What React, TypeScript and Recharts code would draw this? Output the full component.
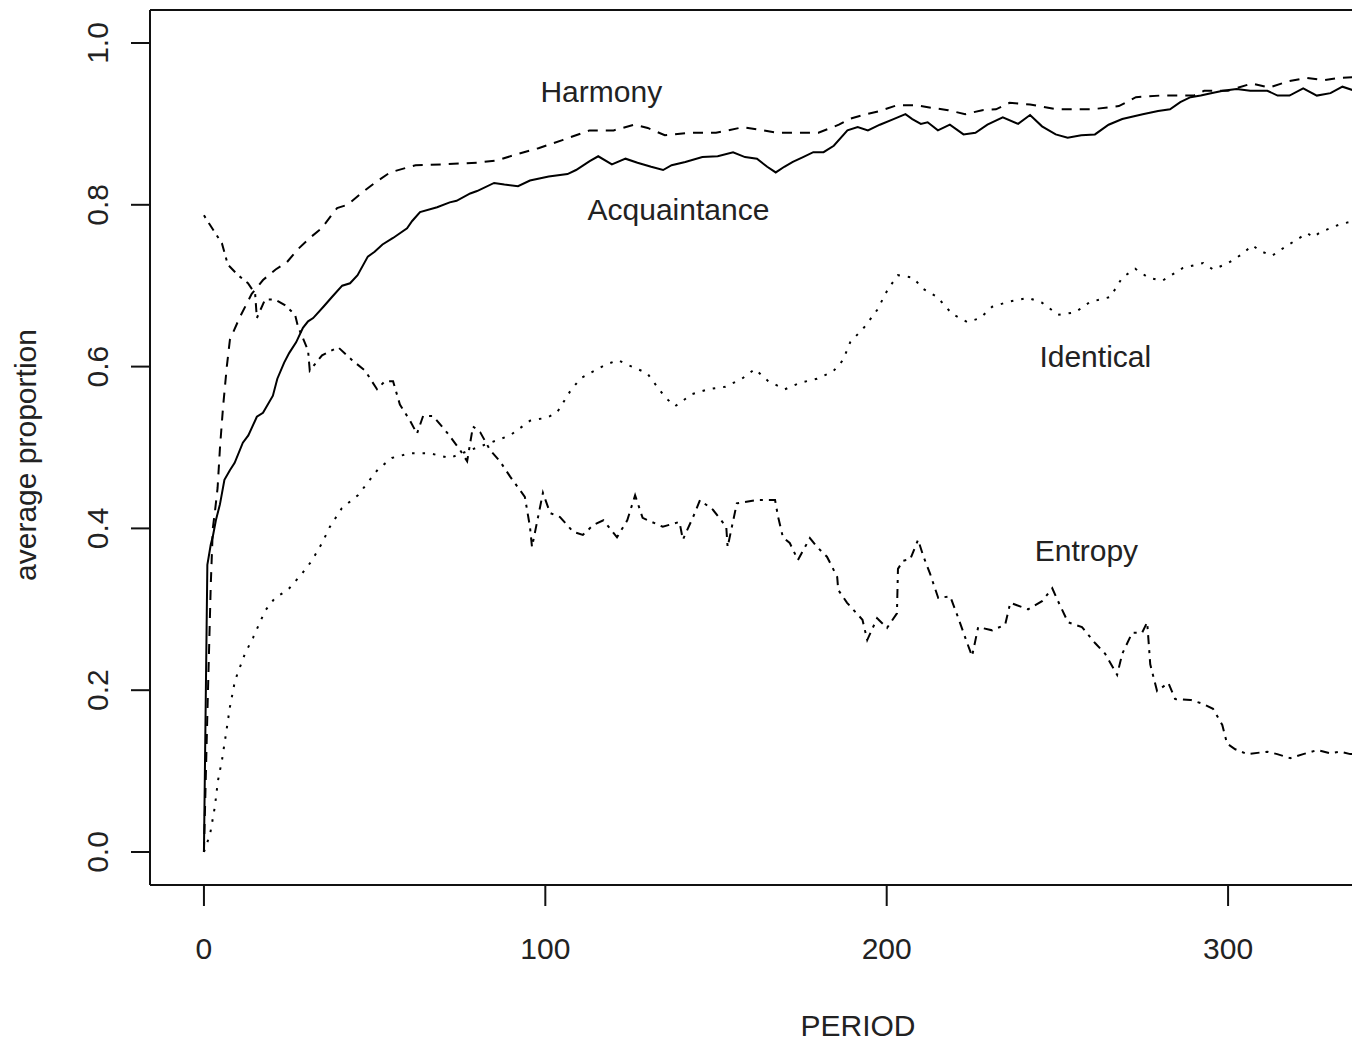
import { LineChart, Line, XAxis, YAxis, ReferenceLine, ReferenceDot } from 'recharts';

const FONT = '"Liberation Sans", Arial, Helvetica, sans-serif';
const INK = '#111';
const TEXT = '#222';

// axis ranges (R pads the data range by 4%)
const X_MIN = -15.8;
const X_MAX = 336.3;
const Y_MIN = -0.0408;
const Y_MAX = 1.0408;

const periodTicks = [0, 100, 200, 300];
const proportionTicks = [0, 0.2, 0.4, 0.6, 0.8, 1.0];

// [period, average proportion]
const acquaintance: [number, number][] = [
  [0, 0], [1, 0.355], [2, 0.38], [2.6, 0.39], [3.5, 0.41], [4.7, 0.43], [6, 0.46], [7.6, 0.472], [9, 0.481],
  [11.4, 0.506], [13, 0.515], [15.5, 0.538], [17.3, 0.543], [20.2, 0.564], [21.5, 0.585], [23.5, 0.605],
  [25, 0.617], [27, 0.63], [29, 0.648], [30.5, 0.656], [32, 0.66], [35, 0.674], [37.5, 0.686], [40.5, 0.7],
  [42.8, 0.703], [45, 0.713], [48, 0.736], [50, 0.742], [52.3, 0.751], [55.4, 0.759], [59.5, 0.771],
  [61, 0.78], [63.3, 0.791], [68.3, 0.797], [72, 0.803], [74, 0.805], [78, 0.814], [80, 0.817],
  [85, 0.827], [88, 0.825], [92, 0.823], [95.5, 0.83], [101, 0.835], [106.5, 0.838], [109, 0.843],
  [113, 0.854], [115.5, 0.86], [119.5, 0.85], [123.5, 0.857], [127, 0.852], [131, 0.847], [134.5, 0.843],
  [137, 0.849], [141, 0.853], [146, 0.859], [150.5, 0.86], [155, 0.865], [158.5, 0.859], [162, 0.857],
  [165, 0.847], [167.5, 0.84], [170, 0.847], [172.5, 0.853], [175.5, 0.859], [178.5, 0.865], [181.5, 0.865],
  [184.5, 0.873], [188.5, 0.892], [191.5, 0.896], [194.5, 0.892], [198, 0.899], [202, 0.906], [205.5, 0.912],
  [207.5, 0.906], [210, 0.9], [212, 0.902], [215, 0.892], [218.5, 0.899], [222.5, 0.887], [226, 0.889],
  [229.5, 0.899], [234, 0.908], [238.5, 0.9], [242, 0.911], [245.5, 0.897], [249.5, 0.887], [253, 0.883],
  [257, 0.886], [261, 0.887], [265, 0.899], [269, 0.906], [275, 0.912], [279.5, 0.916], [283, 0.918],
  [286, 0.927], [289, 0.933], [292, 0.935], [295, 0.938], [298.5, 0.941], [302.5, 0.943], [306.5, 0.941],
  [311.5, 0.941], [314.5, 0.935], [318, 0.935], [322, 0.944], [326, 0.935], [330, 0.938], [333.5, 0.946],
  [337, 0.941], [342, 0.943],
];

const harmony: [number, number][] = [
  [0, 0], [1, 0.17], [2, 0.33], [2.6, 0.4], [3.2, 0.42], [4, 0.45], [4.7, 0.5], [5.6, 0.55], [6.7, 0.6],
  [7.6, 0.633], [10.5, 0.661], [14, 0.69], [17.3, 0.707], [21, 0.72], [24.3, 0.729], [27.5, 0.745],
  [31, 0.759], [34.5, 0.771], [37.5, 0.788], [39, 0.796], [42, 0.8], [46.6, 0.816], [50, 0.827],
  [54.5, 0.84], [62, 0.849], [70, 0.85], [80, 0.852], [86, 0.855], [92, 0.863], [98, 0.87], [105, 0.88],
  [113, 0.892], [120, 0.892], [126, 0.899], [130, 0.895], [135, 0.886], [142, 0.889], [150, 0.889],
  [158, 0.896], [168, 0.889], [180, 0.889], [186, 0.899], [189, 0.906], [194, 0.912], [198, 0.916],
  [203, 0.923], [209, 0.923], [213, 0.92], [218, 0.917], [223, 0.912], [228, 0.917], [232, 0.918],
  [236, 0.926], [242, 0.924], [250, 0.918], [260, 0.918], [268, 0.922], [273, 0.933], [280, 0.935],
  [290, 0.935], [293, 0.941], [300, 0.941], [307, 0.95], [312, 0.945], [318, 0.953], [323, 0.957],
  [328, 0.954], [333, 0.957], [338, 0.958], [342, 0.958],
];

const identical: [number, number][] = [
  [0, 0], [1.8, 0.022], [3.2, 0.056], [4.1, 0.088], [5.3, 0.114], [6.7, 0.153], [7.6, 0.179], [9.1, 0.212],
  [12, 0.245], [14.4, 0.265], [17.9, 0.298], [20.8, 0.314], [24.6, 0.324], [28.7, 0.344], [31.6, 0.36],
  [34.6, 0.382], [36.9, 0.402], [40.4, 0.425], [45.1, 0.441], [51, 0.473], [55, 0.487], [60.4, 0.493],
  [66, 0.493], [72, 0.487], [80, 0.5], [89.7, 0.515], [95.5, 0.533], [100.5, 0.537], [103.4, 0.543],
  [107.2, 0.569], [110.2, 0.585], [113.1, 0.592], [117.5, 0.602], [121.3, 0.608], [124.2, 0.602],
  [129.8, 0.592], [135.1, 0.562], [138, 0.551], [143, 0.566], [147.7, 0.572], [152.7, 0.575],
  [157.6, 0.585], [161.4, 0.597], [165.3, 0.582], [170.2, 0.572], [174.6, 0.58], [179.6, 0.585],
  [184.3, 0.594], [187.2, 0.608], [189.3, 0.63], [193.7, 0.65], [197.2, 0.67], [200.4, 0.696],
  [203.3, 0.713], [207.7, 0.71], [210.7, 0.696], [214.8, 0.686], [219.2, 0.665], [223.6, 0.655],
  [227.4, 0.66], [230.9, 0.674], [235.6, 0.68], [241.4, 0.685], [245.5, 0.679], [250.2, 0.664],
  [255.2, 0.667], [259.6, 0.68], [265.5, 0.686], [269, 0.71], [272.8, 0.721], [276.6, 0.71],
  [280.7, 0.706], [284.5, 0.716], [286.8, 0.722], [292.7, 0.728], [295.6, 0.72], [300, 0.728],
  [304.1, 0.739], [307.1, 0.75], [309.4, 0.743], [312.9, 0.737], [316.7, 0.748], [323.2, 0.765],
  [324.9, 0.76], [327, 0.766], [332.8, 0.776], [337, 0.78], [342, 0.782],
];

const entropy: [number, number][] = [
  [0, 0.787], [1.8, 0.775], [5.3, 0.752], [7, 0.726], [10, 0.713], [12.9, 0.703], [15, 0.69], [15.5, 0.66],
  [17.9, 0.683], [20.8, 0.683], [23.7, 0.676], [26.7, 0.664], [27.5, 0.65], [30.5, 0.62], [31, 0.595],
  [34.6, 0.614], [39.3, 0.624], [43.4, 0.608], [47.2, 0.595], [50.7, 0.572], [53, 0.582], [55.4, 0.582],
  [57.4, 0.553], [60.4, 0.533], [62.4, 0.517], [64.2, 0.539], [67.1, 0.539], [71.5, 0.517], [75, 0.497],
  [77.1, 0.483], [78.8, 0.526], [80.9, 0.519], [83.8, 0.497], [86.7, 0.483], [89.7, 0.464], [94, 0.439],
  [95.5, 0.402], [96.1, 0.377], [99.3, 0.444], [101.4, 0.419], [104.3, 0.414], [108.1, 0.396],
  [111, 0.392], [114, 0.404], [117, 0.41], [121, 0.389], [124, 0.41], [126.3, 0.441], [128.5, 0.413],
  [134.4, 0.402], [139.3, 0.408], [140.3, 0.386], [143.8, 0.419], [145.3, 0.435], [149.1, 0.423],
  [153, 0.402], [153.4, 0.377], [156.1, 0.431], [162, 0.435], [167.3, 0.435], [168.2, 0.414],
  [169.6, 0.389], [171.6, 0.382], [174, 0.361], [177.5, 0.388], [179.6, 0.377], [182.5, 0.365],
  [185.5, 0.34], [185.8, 0.324], [188.4, 0.308], [192.9, 0.287], [194.3, 0.262], [197.2, 0.289],
  [200.1, 0.277], [203, 0.295], [203.3, 0.35], [204.8, 0.36], [206.9, 0.362], [209.2, 0.386],
  [210.7, 0.366], [212.7, 0.344], [215.1, 0.314], [218.6, 0.316], [220.9, 0.29], [223.6, 0.258],
  [225, 0.242], [226.8, 0.278], [230.9, 0.274], [234.7, 0.281], [236.2, 0.308], [241.4, 0.3],
  [245.5, 0.31], [248.5, 0.326], [250.2, 0.31], [253.1, 0.284], [257.2, 0.278], [261.1, 0.258],
  [264, 0.245], [267.5, 0.219], [269, 0.245], [271.9, 0.271], [274.8, 0.271], [276.3, 0.284],
  [277.2, 0.232], [279.2, 0.199], [282.5, 0.209], [284.5, 0.189], [289, 0.188], [292.7, 0.183],
  [295.6, 0.177], [298.3, 0.157], [299.7, 0.134], [302.1, 0.127], [305.6, 0.121], [311.5, 0.124],
  [314.4, 0.121], [318.2, 0.116], [322, 0.121], [326.1, 0.126], [329.9, 0.122], [332.8, 0.124],
  [335.8, 0.121], [340, 0.122],
];

// text() annotations placed in data coordinates
const annotations: { text: string; p: number; v: number }[] = [
  { text: 'Harmony', p: 116.4, v: 0.94 },
  { text: 'Acquaintance', p: 139.0, v: 0.794 },
  { text: 'Identical', p: 261.1, v: 0.613 },
  { text: 'Entropy', p: 258.5, v: 0.373 },
];

const toPoints = (rows: [number, number][]) => rows.map(([p, v]) => ({ p, v }));

const series = [
  { name: 'Acquaintance', rows: acquaintance, dash: undefined },
  { name: 'Harmony', rows: harmony, dash: '10 8' },
  { name: 'Identical', rows: identical, dash: '2.5 8' },
  { name: 'Entropy', rows: entropy, dash: '3 6 9 6' },
];

function XTick({ x, y, payload }: any) {
  return (
    <text x={x} y={y + 53} textAnchor="middle" fontSize={30} fontFamily={FONT} fill={TEXT}>
      {payload.value}
    </text>
  );
}

function YTick({ x, y, payload }: any) {
  const bx = x - 23;
  return (
    <text
      x={bx}
      y={y}
      transform={`rotate(-90, ${bx}, ${y})`}
      textAnchor="middle"
      fontSize={30}
      fontFamily={FONT}
      fill={TEXT}
    >
      {Number(payload.value).toFixed(1)}
    </text>
  );
}

export default function App() {
  return (
    <div style={{ position: 'absolute', left: 0, top: 0, width: 1352, height: 1045, overflow: 'hidden', background: '#fff' }}>
      <LineChart width={1352} height={1045} margin={{ top: 10, right: 0, bottom: 0, left: 0 }}>
        <XAxis
          type="number"
          dataKey="p"
          domain={[X_MIN, X_MAX]}
          ticks={periodTicks}
          allowDataOverflow
          height={160}
          tickSize={21}
          tickMargin={0}
          stroke={INK}
          strokeWidth={2}
          tick={<XTick />}
          label={{
            content: ({ viewBox }: any) => (
              <text x={viewBox.x + 708} y={viewBox.y + 151} textAnchor="middle" fontSize={30} fontFamily={FONT} fill={TEXT}>
                PERIOD
              </text>
            ),
          }}
        />
        <YAxis
          type="number"
          dataKey="v"
          domain={[Y_MIN, Y_MAX]}
          ticks={proportionTicks}
          allowDataOverflow
          width={150}
          tickSize={19}
          tickMargin={0}
          stroke={INK}
          strokeWidth={2}
          tick={<YTick />}
          label={{
            content: ({ viewBox }: any) => {
              const lx = viewBox.x + 36;
              const ly = 455;
              return (
                <text x={lx} y={ly} transform={`rotate(-90, ${lx}, ${ly})`} textAnchor="middle" fontSize={30} fontFamily={FONT} fill={TEXT}>
                  average proportion
                </text>
              );
            },
          }}
        />
        <ReferenceLine y={Y_MAX} stroke={INK} strokeWidth={2} />
        {series.map((s) => (
          <Line
            key={s.name}
            name={s.name}
            data={toPoints(s.rows)}
            dataKey="v"
            type="linear"
            stroke="#000"
            strokeWidth={2}
            strokeDasharray={s.dash}
            dot={false}
            activeDot={false}
            isAnimationActive={false}
          />
        ))}
        {annotations.map((a) => (
          <ReferenceDot
            key={a.text}
            x={a.p}
            y={a.v}
            r={1}
            fill="none"
            stroke="none"
            label={{ value: a.text, position: 'center', fontSize: 30, fontFamily: FONT, fill: TEXT }}
          />
        ))}
      </LineChart>
    </div>
  );
}
